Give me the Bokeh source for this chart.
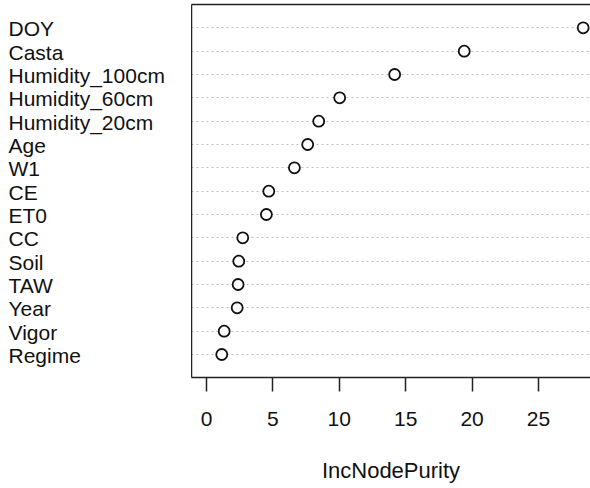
from bokeh.plotting import figure
from bokeh.layouts import row
from bokeh.models import Range1d, FixedTicker, LinearAxis, ColumnDataSource
from bokeh.core.properties import value
from bokeh.embed import file_html
from bokeh.resources import INLINE

variables = ["DOY", "Casta", "Humidity_100cm", "Humidity_60cm", "Humidity_20cm",
             "Age", "W1", "CE", "ET0", "CC", "Soil", "TAW", "Year", "Vigor", "Regime"]
inc_node_purity = [28.37, 19.41, 14.17, 10.03, 8.45, 7.62, 6.62, 4.69, 4.51,
                   2.73, 2.43, 2.38, 2.31, 1.33, 1.15]
x_ticks = [0, 5, 10, 15, 20, 25]
x_title = "IncNodePurity"

rows = list(range(len(variables), 0, -1))
src = ColumnDataSource(dict(var=variables, val=inc_node_purity, row=rows))

FONT = "Liberation Sans"
LEFT_W = 191
y_range = Range1d(0.015, 16.0)

# ---- label panel (left) ----
pl = figure(width=LEFT_W, height=488, output_backend="svg", toolbar_location=None,
            x_range=Range1d(0, LEFT_W), y_range=y_range,
            x_axis_type=None, y_axis_type=None,
            min_border_left=0, min_border_right=0, min_border_top=4,
            min_border_bottom=111)
pl.outline_line_color = None
pl.xgrid.grid_line_color = None
pl.ygrid.grid_line_color = None
pl.text(x=8, y="row", text="var", source=src, text_font=value(FONT),
        text_font_size="21px", text_color="#111111", text_align="left",
        text_baseline="middle", y_offset=1)

# ---- dot chart (right) ----
p = figure(width=590 - LEFT_W, height=488, output_backend="svg", toolbar_location=None,
           x_range=Range1d(-1.13, 28.92), y_range=y_range,
           min_border_left=0, min_border_right=0, min_border_top=4,
           min_border_bottom=111)
p.outline_line_color = None
p.background_fill_color = "white"
p.border_fill_color = "white"

xa = p.xaxis[0]
xa.ticker = FixedTicker(ticks=x_ticks)
xa.minor_tick_line_color = None
xa.major_tick_in = 0
xa.major_tick_out = 14
xa.major_tick_line_width = 1.5
xa.major_tick_line_color = "#222222"
xa.axis_line_color = "#222222"
xa.axis_line_width = 1.5
xa.major_label_text_font = FONT
xa.major_label_text_font_size = "21px"
xa.major_label_text_color = "#111111"
xa.major_label_standoff = 20
xa.axis_label = x_title
xa.axis_label_text_font = FONT
xa.axis_label_text_font_size = "22px"
xa.axis_label_text_font_style = "normal"
xa.axis_label_text_color = "#111111"
xa.axis_label_standoff = 29

ya = p.yaxis[0]
ya.ticker = FixedTicker(ticks=[])
ya.minor_tick_line_color = None
ya.major_tick_line_color = None
ya.axis_line_color = "#222222"
ya.axis_line_width = 1.5

top = LinearAxis(ticker=FixedTicker(ticks=[]), axis_line_color="#222222",
                 axis_line_width=1.5, major_tick_line_color=None,
                 minor_tick_line_color=None)
p.add_layout(top, "above")

p.xgrid.grid_line_color = None
p.ygrid.ticker = FixedTicker(ticks=rows)
p.ygrid.grid_line_color = "#bdbdbd"
p.ygrid.grid_line_dash = "2 3"
p.ygrid.grid_line_width = 1

p.scatter("val", "row", source=src, size=11, marker="circle",
          fill_color="white", line_color="#111111", line_width=1.8)

layout = row(pl, p, spacing=0)
open("out.html", "w").write(file_html(layout, INLINE))
